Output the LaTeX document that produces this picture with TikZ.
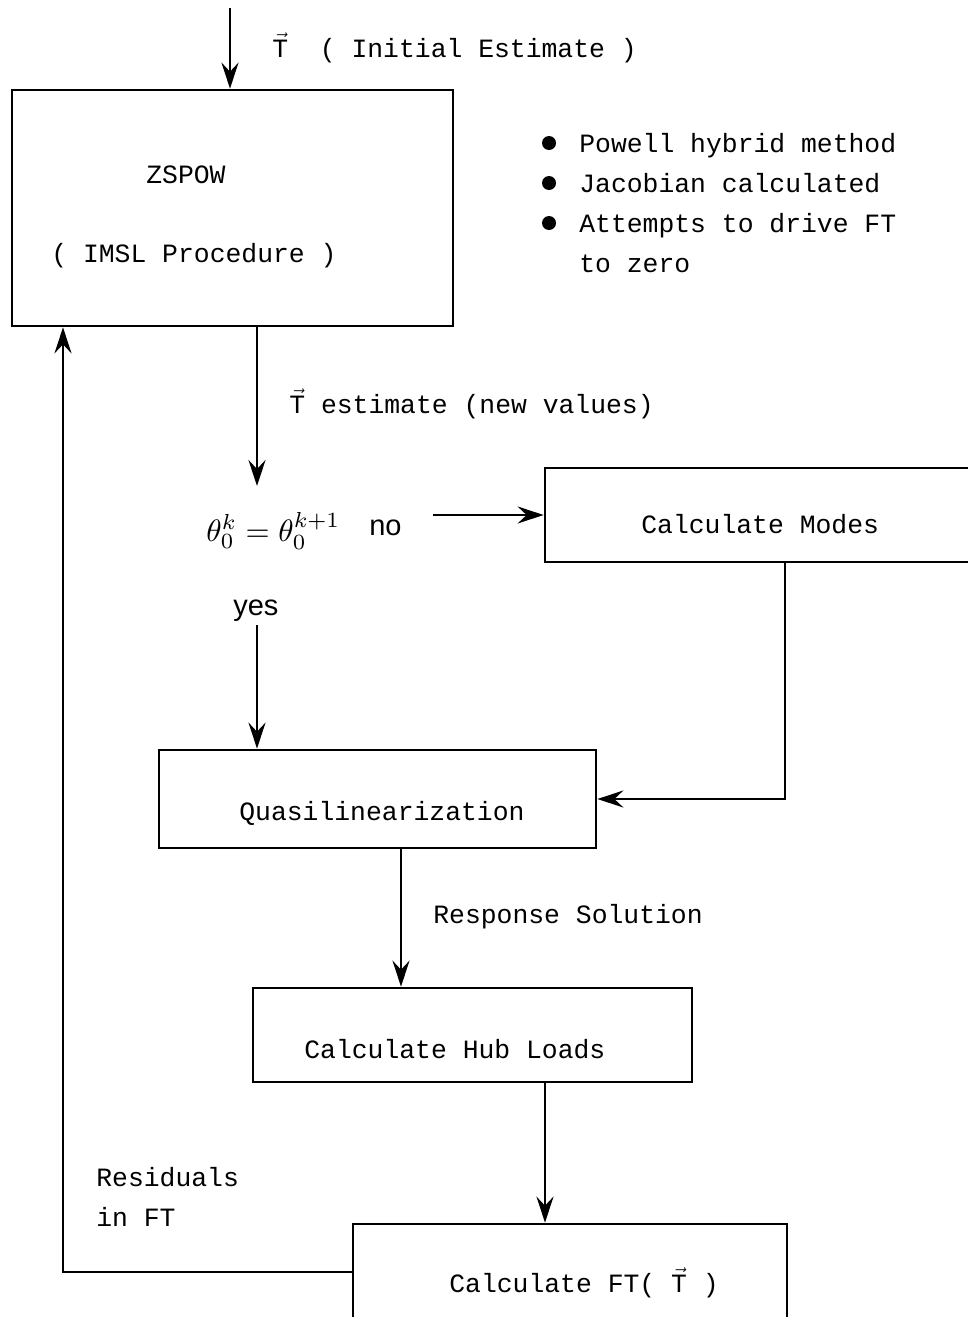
\documentclass[tikz,border=0pt]{standalone}
\usepackage{graphicx}
\usepackage{fontspec}
\setmainfont{Liberation Serif}
\setsansfont{Liberation Sans}
\setmonofont{Liberation Mono}
\usetikzlibrary{arrows.meta}
\newcommand{\vT}{$\vec{\hbox{\ttfamily T}}$}
\begin{document}
\begin{tikzpicture}[x=1pt,y=-1pt,
  line width=2.7pt,
  arr/.style={-{Stealth[length=26pt,width=17pt,inset=9pt]}},
  box/.style={draw,rectangle,inner sep=0pt,line width=2.7pt},
  txt/.style={inner sep=0pt,anchor=base west,font=\ttfamily\fontsize{26.4}{30}\selectfont},
  lab/.style={inner sep=0pt,anchor=base west,font=\sffamily\fontsize{29}{34}\selectfont},
  dot/.style={circle,fill,inner sep=0pt,minimum size=14pt}]
\useasboundingbox (0,0) rectangle (968,1317);
\clip (0,0) rectangle (968,1317);

% boxes
\node[box,minimum width=441pt,minimum height=236pt] (zspow) at (232.5,208) {};
\node[box,minimum width=440pt,minimum height=94pt] (modes) at (765,515) {};
\node[box,minimum width=437pt,minimum height=98pt] (quasi) at (377.5,799) {};
\node[box,minimum width=439pt,minimum height=94pt] (hub) at (472.5,1035) {};
\node[box,minimum width=434pt,minimum height=110pt] (ft) at (570,1279) {};

% box texts
\node[txt] (zname) at (145,183) {ZSPOW};
\node[txt] (zproc) at (50,262) {( IMSL Procedure )};
\node[txt] (mname) at (640,533) {Calculate Modes};
\node[txt] (qname) at (238,820) {Quasilinearization};
\node[txt] (hname) at (303,1058) {Calculate Hub Loads};
\node[txt] (fname) at (448,1292) {Calculate FT( \vT\ )};

% notes
\node[txt] (tinit) at (271,57) {\vT\ \ ( Initial Estimate )};
\node[dot] (b1) at (549,143) {};
\node[dot] (b2) at (549,183) {};
\node[dot] (b3) at (549,223) {};
\node[txt] (n1) at (578,152) {Powell hybrid method};
\node[txt] (n2) at (578,192) {Jacobian calculated};
\node[txt] (n3) at (578,232) {Attempts to drive FT};
\node[txt] (n4) at (578,272) {to zero};
\node[txt] (tnew) at (288,413) {\vT\ estimate (new values)};
\node[inner sep=0pt,anchor=base west,font=\fontsize{10}{12}\selectfont] (eq) at (205,541) {\scalebox{3.1}{$\theta_0^k=\theta_0^{k+1}$}};
\node[lab] (no) at (368,535) {no};
\node[lab] (yes) at (232,615) {yes};
\node[txt] (resp) at (432,923) {Response Solution};
\node[txt] (res1) at (95,1186) {Residuals};
\node[txt] (res2) at (95,1226) {in FT};

% connectors
\coordinate (start) at (230,8);
\draw[arr] (start) -- (start |- zspow.north);
\coordinate (zout) at (257,486);
\draw[arr] (zout |- zspow.south) -- (zout);
\coordinate (nostart) at (433,515);
\draw[arr] (nostart) -- (modes.west);
\coordinate (ystart) at (257,625);
\draw[arr] (ystart) -- (ystart |- quasi.north);
\coordinate (mturn) at (785,799);
\draw[arr] (mturn |- modes.south) -- (mturn) -- (quasi.east);
\coordinate (qdown) at (401,900);
\draw[arr] (qdown |- quasi.south) -- (qdown |- hub.north);
\coordinate (hdown) at (545,1150);
\draw[arr] (hdown |- hub.south) -- (hdown |- ft.north);
\coordinate (back) at (63,1272);
\draw[arr] (back -| ft.west) -- (back) -- (back |- zspow.south);
\end{tikzpicture}
\end{document}
